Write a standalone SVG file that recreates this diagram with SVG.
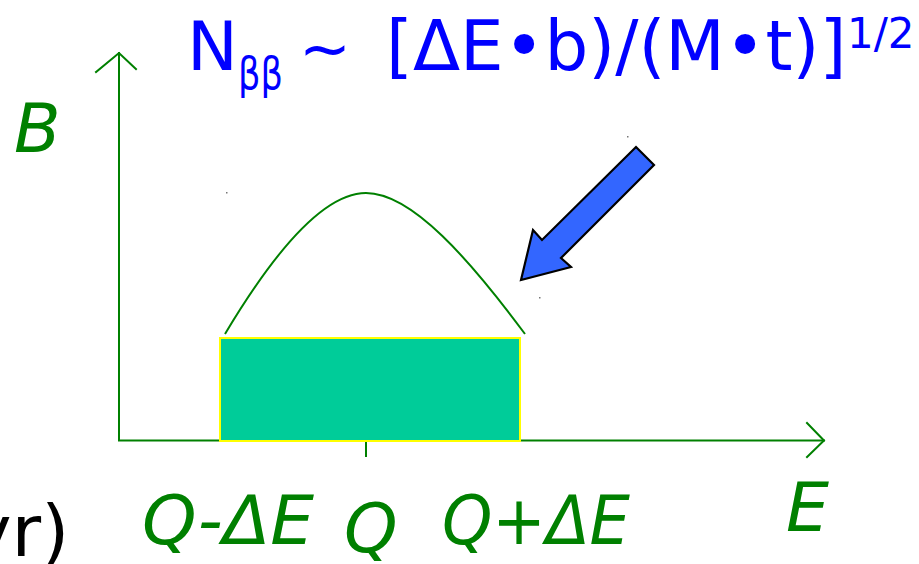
<svg xmlns="http://www.w3.org/2000/svg" width="919" height="564" viewBox="0 0 919 564">
  <style>
    .ax { stroke: #008000; stroke-width: 2; fill: none; stroke-linecap: square; }
    .lbl { font-family: "DejaVu Sans", Verdana, sans-serif; font-style: oblique; font-size: 68px; fill: #008000; }
    .ttl { font-family: "DejaVu Sans", Verdana, sans-serif; fill: #0000FF; }
    .speck { fill: #777777; }
  </style>
  <rect width="919" height="564" fill="#FFFFFF"/>

  <g id="connectors">
    <!-- y axis -->
    <path class="ax" d="M119,440 L119,53"/>
    <path class="ax" d="M96,72 L119,53 L136,69"/>
    <!-- x axis -->
    <path class="ax" d="M119,440.5 L824,440.5"/>
    <path class="ax" d="M807,423 L824,440.5 L807,457"/>
    <!-- tick at Q -->
    <path class="ax" d="M366,441 L366,456"/>
  </g>

  <g id="window">
    <rect x="220" y="338" width="300" height="103" fill="#00CC99" stroke="#FFFF00" stroke-width="2"/>
  </g>

  <g id="peak">
    <path d="M225,334 C268,262 320,193 366,193 C412,193 470,260 525,334" fill="none" stroke="#008000" stroke-width="2"/>
  </g>

  <g id="pointer">
    <polygon points="636,147 654,165 561,258 571,267 521,280 533,230 542,240" fill="#3366FF" stroke="#000000" stroke-width="2.2" stroke-linejoin="miter"/>
    <rect class="speck" x="226" y="192" width="1.5" height="1.5"/>
    <rect class="speck" x="627" y="136" width="1.5" height="1.5"/>
    <rect class="speck" x="539" y="297" width="1.5" height="1.5"/>
  </g>

  <g id="formula">
    <text class="ttl" x="187" y="70" font-size="68">N</text>
    <text class="ttl" x="238" y="89" font-size="44" textLength="45" lengthAdjust="spacingAndGlyphs">ββ</text>
    <text class="ttl" x="299" y="70" font-size="62">~</text>
    <text class="ttl" x="386" y="70" font-size="69">[ΔE•b)/(M•t)]</text>
    <text class="ttl" x="847" y="48" font-size="42">1/2</text>
  </g>

  <g id="label-B">
    <text class="lbl" x="14" y="152">B</text>
  </g>
  <g id="label-E">
    <text class="lbl" x="786" y="531">E</text>
  </g>
  <g id="label-QminusdE">
    <text class="lbl" x="142" y="544" textLength="172" lengthAdjust="spacingAndGlyphs">Q-ΔE</text>
  </g>
  <g id="label-Q">
    <text class="lbl" x="344" y="552">Q</text>
  </g>
  <g id="label-QplusdE">
    <text class="lbl" x="442" y="544" textLength="188" lengthAdjust="spacingAndGlyphs">Q+ΔE</text>
  </g>
  <g id="label-yr">
    <text x="-31" y="556" font-family="DejaVu Sans, Verdana, sans-serif" font-size="72" fill="#000000">yr)</text>
  </g>
</svg>
